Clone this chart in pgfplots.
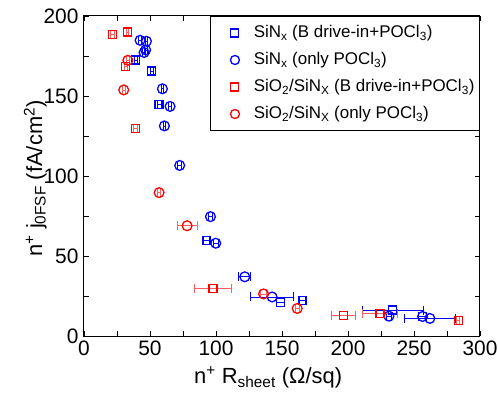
\documentclass[border=0pt]{standalone}
\usepackage{fontspec}
\setmainfont{Liberation Sans}
\usepackage{pgfplots}
\pgfplotsset{compat=1.18}
\usepackage{pgfplotstable}
\definecolor{lred}{RGB}{255,95,95}
\definecolor{pblue}{RGB}{0,0,255}
\definecolor{pred}{RGB}{255,0,0}

\pgfplotstableread{
x y ex
39.2 172.5 1
51.3 165.6 1
56.9 144.5 1.5
92.7 59.9 2.5
149.0 21.0 3
165.5 22.3 2
233.8 16.2 23
}\bsq

\pgfplotstableread{
x y ex
42.5 184.8 1
47.3 184.2 1
46.7 178.8 1
45.5 177.2 1
59.4 154.5 1
65.2 143.5 1
60.9 131.3 1
72.5 106.6 1.5
95.8 74.6 1.5
99.8 58.0 2
121.8 37.0 4.5
142.5 24.4 16.5
231.0 12.4 2
256.5 12.2 3
262.0 11.0 19.5
}\bci

\pgfplotstableread{
x y ex
196.4 13.0 9
21.5 188.5 1.5
32.9 190.0 1
31.6 168.5 1
39.2 129.5 1.5
97.8 29.8 14
224.2 14.2 13
283.5 9.5 1
}\rsq

\pgfplotstableread{
x y ex
33.2 172.3 1
30.1 153.8 1
56.9 89.6 1
78.1 68.9 7.7
136.0 26.3 2
161.5 17.2 1.5
}\rci

\begin{document}
\begin{tikzpicture}
\useasboundingbox (-84bp,-58bp) rectangle (414bp,336bp);
\begin{axis}[
  scale only axis,
  width=396bp, height=320bp,
  xmin=0, xmax=300, ymin=0, ymax=200,
  xtick={0,50,...,300}, ytick={0,50,...,200},
  minor tick num=1,
  tick align=inside,
  major tick length=5bp, minor tick length=5bp,
  axis line style={line width=1bp},
  every tick/.style={black, line width=0.9bp},
  /pgf/number format/assume math mode=true,
  ticklabel style={font=\fontsize{21}{24}\selectfont},
  xticklabel style={yshift=-1bp},
  yticklabel style={xshift=-2bp},
  xlabel={n\textsuperscript{+} R\textsubscript{sheet} (Ω/sq)},
  ylabel={n\textsuperscript{+} j\textsubscript{0FSF} (fA/cm\textsuperscript{2})},
  label style={font=\fontsize{22}{26}\selectfont},
  xlabel style={at={(axis description cs:0.465,-0.147)}, anchor=base},
  ylabel style={at={(axis description cs:-0.106,0.492)}, anchor=base},
  legend style={at={(1,1)}, anchor=north east, draw=black, line width=1bp,
    font=\fontsize{17}{20}\selectfont, inner xsep=3bp, inner ysep=6bp,
    row sep=6bp, column sep=0bp,
    nodes={inner sep=2bp, text height=13bp, text depth=4bp}},
  legend cell align=left,
  error bars/x dir=both, error bars/x explicit,
]
\addplot[only marks, pblue, mark=square, mark size=4bp, line width=1.3bp,
  mark options={solid, draw=pblue},
  error bars/error bar style={pblue, line width=0.8bp},
  error bars/error mark options={pblue, rotate=90, mark size=4.5bp, line width=0.8bp},
  legend image code/.code={\path[draw=none] (0bp,0bp) -- (38bp,0bp);
    \path (16bp,0bp) node[draw=pblue, line width=1.3bp, minimum size=8bp, inner sep=0pt, text height=0pt, text depth=0pt] {};}]
  table[x=x, y=y, x error=ex] {\bsq};
\addlegendentry{SiN\textsubscript{x} (B drive-in+POCl\textsubscript{3})}
\addplot[only marks, pblue, mark=o, mark size=4.9bp, line width=1.3bp,
  mark options={solid, draw=pblue},
  error bars/error bar style={pblue, line width=0.8bp},
  error bars/error mark options={pblue, rotate=90, mark size=4.5bp, line width=0.8bp},
  legend image code/.code={\path[draw=none] (0bp,0bp) -- (38bp,0bp);
    \path (16bp,0bp) node[circle, draw=pblue, line width=1.3bp, minimum size=9bp, inner sep=0pt, text height=0pt, text depth=0pt] {};}]
  table[x=x, y=y, x error=ex] {\bci};
\addlegendentry{SiN\textsubscript{x} (only POCl\textsubscript{3})}
\addplot[only marks, pred, mark=square, mark size=4bp, line width=1.3bp,
  mark options={solid, draw=pred},
  error bars/error bar style={lred, line width=0.8bp},
  error bars/error mark options={lred, rotate=90, mark size=4.5bp, line width=0.8bp},
  legend image code/.code={\path[draw=none] (0bp,0bp) -- (38bp,0bp);
    \path (16bp,0bp) node[draw=pred, line width=1.3bp, minimum size=8bp, inner sep=0pt, text height=0pt, text depth=0pt] {};}]
  table[x=x, y=y, x error=ex] {\rsq};
\addlegendentry{SiO\textsubscript{2}/SiN\textsubscript{X} (B drive-in+POCl\textsubscript{3})}
\addplot[only marks, pred, mark=o, mark size=4.9bp, line width=1.3bp,
  mark options={solid, draw=pred},
  error bars/error bar style={lred, line width=0.8bp},
  error bars/error mark options={lred, rotate=90, mark size=4.5bp, line width=0.8bp},
  legend image code/.code={\path[draw=none] (0bp,0bp) -- (38bp,0bp);
    \path (16bp,0bp) node[circle, draw=pred, line width=1.3bp, minimum size=9bp, inner sep=0pt, text height=0pt, text depth=0pt] {};}]
  table[x=x, y=y, x error=ex] {\rci};
\addlegendentry{SiO\textsubscript{2}/SiN\textsubscript{X} (only POCl\textsubscript{3})}
\end{axis}
\end{tikzpicture}
\end{document}
